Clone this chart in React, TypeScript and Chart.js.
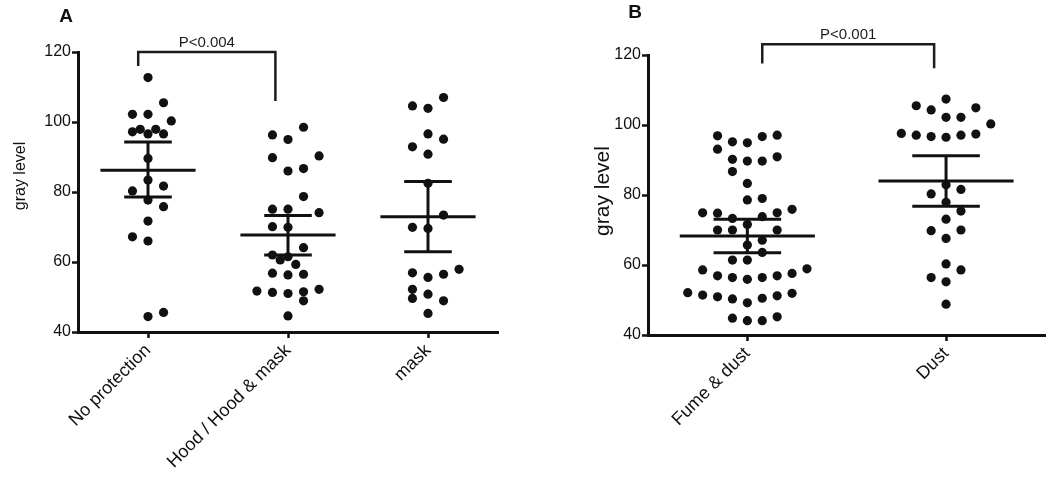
import React, { useEffect, useRef } from "react";
import { Chart, registerables } from "chart.js";

Chart.register(...registerables);

const FONT = '"Liberation Sans", Arial, Helvetica, sans-serif';

// ---------- Panel A data ----------
const groupsA = ["No protection", "Hood / Hood & mask", "mask"];
const noProtection = [112.7, 105.5, 102.2, 102.2, 100.3, 97.2, 97.9, 96.6, 97.9, 96.6, 89.6, 83.4, 80.3, 81.7, 77.7, 75.8, 71.7, 67.2, 66.0, 44.4, 45.6];
const noProtectionCol = [0, 1, -1, 0, 1.5, -1, -0.5, 0, 0.5, 1, 0, 0, -1, 1, 0, 1, 0, -1, 0, 0, 1];
const hood = [98.5, 96.3, 95.0, 89.8, 90.3, 86.0, 86.7, 78.7, 75.1, 75.1, 74.1, 70.1, 69.9, 64.1, 62.0, 60.6, 61.5, 59.3, 56.8, 56.3, 56.5, 51.7, 51.3, 51.0, 51.5, 52.2, 48.9, 44.6];
const hoodCol = [1, -1, 0, -1, 2, 0, 1, 1, -1, 0, 2, -1, 0, 1, -1, -0.5, 0, 0.5, -1, 0, 1, -2, -1, 0, 1, 2, 1, 0];
const mask = [107.0, 104.6, 103.9, 96.6, 95.1, 92.9, 90.8, 82.5, 73.4, 69.9, 69.6, 56.9, 55.6, 56.5, 57.9, 52.2, 49.6, 50.8, 48.9, 45.3];
const maskCol = [1, -1, 0, 0, 1, -1, 0, 0, 1, -1, 0, -1, 0, 1, 2, -1, -1, 0, 1, 0];
const meansA = [86.2, 67.7, 72.9];
const semHighA = [94.3, 73.3, 83.0];
const semLowA = [78.6, 62.0, 62.9];
const pTextA = "P<0.004";
const bracketXA = [-0.07, 0.91];
const bracketYA = [116, 120, 106];

// ---------- Panel B data ----------
const groupsB = ["Fume & dust", "Dust"];
const fumeDust = [96.9, 95.2, 94.9, 96.7, 97.1, 93.1, 90.2, 89.7, 89.7, 90.9, 86.7, 83.3, 78.6, 79.0, 74.9, 74.8, 73.3, 71.6, 73.8, 74.9, 75.9, 70.0, 70.0, 70.0, 65.7, 67.1, 63.6, 61.4, 61.4, 58.6, 56.9, 56.4, 55.9, 56.4, 56.9, 57.6, 58.9, 52.1, 51.4, 50.9, 50.3, 49.2, 50.5, 51.2, 51.9, 44.8, 44.1, 44.1, 45.2];
const fumeDustCol = [-2, -1, 0, 1, 2, -2, -1, 0, 1, 2, -1, 0, 0, 1, -3, -2, -1, 0, 1, 2, 3, -2, -1, 2, 0, 1, 1, -1, 0, -3, -2, -1, 0, 1, 2, 3, 4, -4, -3, -2, -1, 0, 1, 2, 3, -1, 0, 1, 2];
const dust = [107.4, 105.5, 104.3, 104.9, 102.2, 102.2, 100.3, 97.6, 97.1, 96.7, 96.5, 97.1, 97.4, 82.9, 80.3, 81.6, 77.9, 75.4, 73.1, 69.8, 70.0, 67.6, 60.3, 58.6, 56.4, 55.2, 48.8];
const dustCol = [0, -2, -1, 2, 0, 1, 3, -3, -2, -1, 0, 1, 2, 0, -1, 1, 0, 1, 0, -1, 1, 0, 0, 1, -1, 0, 0];
const meansB = [68.3, 84.0];
const semHighB = [73.1, 91.2];
const semLowB = [63.5, 76.8];
const pTextB = "P<0.001";
const bracketXB = [0.075, 0.94];
const bracketYB = [117.6, 123.1, 116.2];

const yTicks = [40, 60, 80, 100, 120];
const yTitle = "gray level";

// ---------- styling ----------
const INK = "#111111";
const MEAN_HALF = 0.34;
const CAP_HALF = 0.17;

type PanelCfg = {
  labels: string[];
  values: number[][];
  cols: number[][];
  slot: number;
  means: number[];
  hi: number[];
  lo: number[];
  bracketX: number[];
  bracketY: number[];
  pText: string;
  letter: string;
  letterPos: [number, number];
  titlePos: [number, number];
  titleFont: string;
  area: { left: number; right: number; top: number; bottom: number };
  width: number;
  height: number;
  xFont: number;
};

function seg(a: [number, number], b: [number, number]) {
  return {
    type: "scatter" as const,
    data: [{ x: a[0], y: a[1] }, { x: b[0], y: b[1] }],
    showLine: true,
    pointRadius: 0,
    borderColor: INK,
    borderWidth: 3,
    borderCapStyle: "butt" as const,
    clip: false as const,
  };
}

function buildDatasets(c: PanelCfg) {
  const ds: any[] = [];
  c.values.forEach((vals, g) => {
    ds.push({
      type: "scatter",
      data: vals.map((v, i) => ({ x: g + c.cols[g][i] * c.slot, y: v })),
      pointRadius: 4.6,
      pointBackgroundColor: INK,
      pointBorderWidth: 0,
      pointBorderColor: INK,
    });
  });
  c.means.forEach((m, g) => {
    ds.push(seg([g - MEAN_HALF, m], [g + MEAN_HALF, m]));
    ds.push(seg([g - CAP_HALF, c.hi[g]], [g + CAP_HALF, c.hi[g]]));
    ds.push(seg([g - CAP_HALF, c.lo[g]], [g + CAP_HALF, c.lo[g]]));
    ds.push(seg([g, c.lo[g]], [g, c.hi[g]]));
  });
  ds.push({
    type: "scatter",
    data: [
      { x: c.bracketX[0], y: c.bracketY[0] },
      { x: c.bracketX[0], y: c.bracketY[1] },
      { x: c.bracketX[1], y: c.bracketY[1] },
      { x: c.bracketX[1], y: c.bracketY[2] },
    ],
    showLine: true,
    pointRadius: 0,
    borderColor: "#1c1c1c",
    borderWidth: 2.5,
    borderJoinStyle: "miter",
    clip: false,
  });
  return ds;
}

function Panel({ cfg, left }: { cfg: PanelCfg; left: number }) {
  const ref = useRef<HTMLCanvasElement | null>(null);
  useEffect(() => {
    if (!ref.current) return;
    const c = cfg;
    const textPlugin = {
      id: "texts" + c.letter,
      afterDraw(chart: any) {
        const ctx = chart.ctx;
        ctx.save();
        ctx.fillStyle = "#111";
        ctx.textAlign = "center";
        ctx.textBaseline = "middle";
        ctx.font = `bold 19px ${FONT}`;
        ctx.fillText(c.letter, c.letterPos[0], c.letterPos[1]);
        ctx.font = c.titleFont;
        ctx.translate(c.titlePos[0], c.titlePos[1]);
        ctx.rotate(-Math.PI / 2);
        ctx.fillText(yTitle, 0, 0);
        ctx.restore();
        ctx.save();
        const xs = chart.scales.x;
        const ys = chart.scales.y;
        const px = xs.getPixelForValue((c.bracketX[0] + c.bracketX[1]) / 2);
        const py = ys.getPixelForValue(c.bracketY[1]) - 9.5;
        ctx.fillStyle = "#1c1c1c";
        ctx.textAlign = "center";
        ctx.textBaseline = "middle";
        ctx.font = `15px ${FONT}`;
        ctx.fillText(c.pText, px, py);
        ctx.restore();
      },
    };
    const n = c.labels.length;
    const chart = new Chart(ref.current, {
      type: "scatter",
      data: { datasets: buildDatasets(c) },
      options: {
        animation: false,
        responsive: false,
        events: [],
        layout: {
          padding: {
            left: 0,
            top: c.area.top,
            right: c.width - c.area.right,
            bottom: 0,
          },
        },
        plugins: { legend: { display: false }, tooltip: { enabled: false } },
        scales: {
          x: {
            type: "linear",
            min: -0.5,
            max: n - 0.5,
            afterBuildTicks: (axis: any) => {
              axis.ticks = c.labels.map((_, i) => ({ value: i }));
            },
            afterFit: (scale: any) => {
              scale.height = c.height - c.area.bottom;
            },
            grid: {
              display: true,
              drawOnChartArea: false,
              drawTicks: true,
              tickLength: 6,
              tickWidth: 2.5,
              tickColor: INK,
            },
            border: { display: true, color: INK, width: 3 },
            ticks: {
              autoSkip: false,
              minRotation: 45,
              maxRotation: 45,
              padding: 2,
              color: "#111",
              font: { family: FONT, size: c.xFont },
              callback: (v: any) => c.labels[Math.round(Number(v))] ?? "",
            },
          },
          y: {
            type: "linear",
            min: 40,
            max: 120,
            afterBuildTicks: (axis: any) => {
              axis.ticks = yTicks.map((v) => ({ value: v }));
            },
            afterFit: (scale: any) => {
              scale.width = c.area.left;
            },
            grid: {
              display: true,
              drawOnChartArea: false,
              drawTicks: true,
              tickLength: 6,
              tickWidth: 2.5,
              tickColor: INK,
            },
            border: { display: true, color: INK, width: 3 },
            ticks: {
              padding: 1,
              color: "#111",
              font: { family: FONT, size: 16 },
            },
          },
        },
      } as any,
      plugins: [textPlugin],
    });
    return () => chart.destroy();
  }, [cfg]);
  return (
    <canvas
      ref={ref}
      width={cfg.width}
      height={cfg.height}
      style={{ position: "absolute", left, top: 0, width: cfg.width, height: cfg.height }}
    />
  );
}

const cfgA: PanelCfg = {
  labels: groupsA,
  values: [noProtection, hood, mask],
  cols: [noProtectionCol, hoodCol, maskCol],
  slot: 0.111,
  means: meansA,
  hi: semHighA,
  lo: semLowA,
  bracketX: bracketXA,
  bracketY: bracketYA,
  pText: pTextA,
  letter: "A",
  letterPos: [66, 17],
  titlePos: [21, 176],
  titleFont: `16px ${FONT}`,
  area: { left: 78, right: 498, top: 52, bottom: 332 },
  width: 525,
  height: 490,
  xFont: 18,
};

const cfgB: PanelCfg = {
  labels: groupsB,
  values: [fumeDust, dust],
  cols: [fumeDustCol, dustCol],
  slot: 0.075,
  means: meansB,
  hi: semHighB,
  lo: semLowB,
  bracketX: bracketXB,
  bracketY: bracketYB,
  pText: pTextB,
  letter: "B",
  letterPos: [110, 13],
  titlePos: [78, 191],
  titleFont: `21px ${FONT}`,
  area: { left: 123, right: 523, top: 55, bottom: 335 },
  width: 525,
  height: 490,
  xFont: 18,
};

export default function App() {
  return (
    <div
      style={{
        position: "fixed",
        left: 0,
        top: 0,
        width: 1050,
        height: 490,
        background: "#ffffff",
        overflow: "hidden",
      }}
    >
      <Panel cfg={cfgA} left={0} />
      <Panel cfg={cfgB} left={525} />
    </div>
  );
}
